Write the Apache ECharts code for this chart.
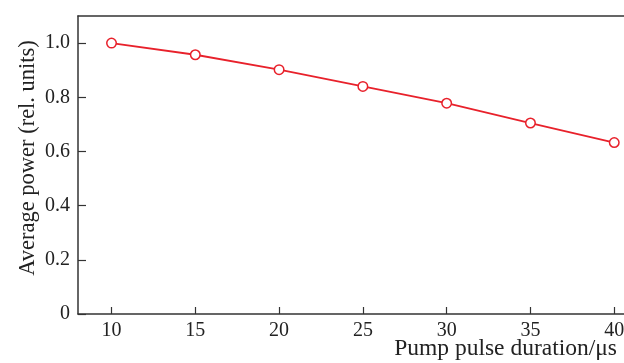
<!DOCTYPE html>
<html><head><meta charset="utf-8">
<script src="https://cdn.jsdelivr.net/npm/echarts@6/dist/echarts.min.js"></script>
<style>html,body{margin:0;padding:0;background:#fff}#c{width:624px;height:363px}</style>
</head><body><div id="c"></div>
<script>
const durations = [10, 15, 20, 25, 30, 35, 40];
const power = [1.0, 0.957, 0.902, 0.840, 0.778, 0.705, 0.633];
const yTicks = [0, 0.2, 0.4, 0.6, 0.8, 1.0];
const xTicks = [10, 15, 20, 25, 30, 35, 40];
const xTitle = 'Pump pulse duration/\u03bcs';
const yTitle = 'Average power (rel. units)';

const font = 'Liberation Serif';
const axisColor = '#333';
const chart = echarts.init(document.getElementById('c'));
chart.setOption({
  animation: false,
  grid: {left: 78, top: 16, width: 553, height: 298, outerBoundsMode: 'none', containLabel: false},
  xAxis: [{
    type: 'value', min: 8, max: 41, interval: 1,
    axisLine: {show: true, lineStyle: {color: axisColor, width: 1.5}},
    axisTick: {show: true, inside: true, length: 7, lineStyle: {color: axisColor, width: 1.2},
      customValues: xTicks},
    axisLabel: {show: true, customValues: xTicks, fontFamily: font, fontSize: 20, color: '#222', margin: 7},
    splitLine: {show: false}
  }, {
    type: 'value', position: 'top', min: 8, max: 41,
    axisLine: {show: true, onZero: false, lineStyle: {color: axisColor, width: 1.5}},
    axisTick: {show: false}, axisLabel: {show: false}, splitLine: {show: false}
  }],
  yAxis: {
    type: 'value', min: 0, max: 1.1, interval: 0.1,
    axisLine: {show: true, lineStyle: {color: axisColor, width: 1.5}},
    axisTick: {show: true, inside: true, length: 8, lineStyle: {color: axisColor, width: 1.2},
      customValues: yTicks},
    axisLabel: {show: true, customValues: yTicks, fontFamily: font, fontSize: 20, color: '#222', margin: 8,
      formatter: v => v === 0 ? '0' : v.toFixed(1)},
    splitLine: {show: false}
  },
  graphic: [{
    type: 'text', right: 7, top: 337,
    style: {text: xTitle, fontFamily: font, fontSize: 23.5, fill: '#222'}
  }, {
    type: 'text', x: 28, y: 158, rotation: Math.PI / 2,
    style: {text: yTitle, fontFamily: font, fontSize: 22.5, fill: '#222', align: 'center', verticalAlign: 'middle'}
  }],
  series: [{
    type: 'line',
    data: durations.map((d, i) => [d, power[i]]),
    symbol: 'circle', symbolSize: 9.5,
    lineStyle: {color: '#e8212b', width: 1.8},
    itemStyle: {color: '#fff', borderColor: '#e8212b', borderWidth: 1.5}
  }]
});
</script></body></html>
